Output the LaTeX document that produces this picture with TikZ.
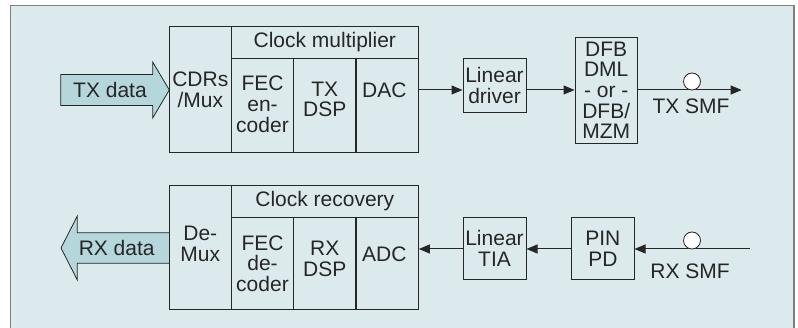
\documentclass[tikz,border=0pt]{standalone}
\usepackage{fontspec}
\setmainfont{Liberation Sans}
\usetikzlibrary{arrows.meta}
\definecolor{panelbg}{RGB}{220,234,238}
\definecolor{arrowfill}{RGB}{181,214,218}
\definecolor{framegray}{RGB}{128,128,128}
\definecolor{inkdark}{RGB}{38,38,38}

\begin{document}
\begin{tikzpicture}[x=1pt, y=-1pt,
    every node/.style={font=\fontsize{21}{20.7}\selectfont, text=inkdark, inner sep=0pt, align=center},
    blk/.style={draw=inkdark, line width=1pt},
    sig/.style={draw=inkdark, line width=1pt, -{Triangle[length=11pt,width=9pt]}},
    bigarrow/.style={draw=inkdark, line width=0.8pt, fill=arrowfill},
    fiber/.style={circle, draw=inkdark, line width=0.8pt, fill=white, minimum size=17pt}]
  \useasboundingbox (0,0) rectangle (798,328);
  \fill[panelbg] (10.5,5.5) rectangle (794,328);
  \draw[framegray, line width=1.5pt] (10.5,328) -- (10.5,5.5) -- (794,5.5) -- (794,328);

  % transmitter
  \draw[bigarrow] (60.7,74.5) -- (152.7,74.5) -- (152.7,62) -- (169.3,90) -- (152.7,118)
    -- (152.7,105.5) -- (60.7,105.5) -- cycle;
  \node (txdata) at (110,90) {TX data};
  \coordinate (txline) at (0,90);
  \node[blk, minimum width=62pt, minimum height=125.6pt] (cdr) at (200.3,89.5) {CDRs\\/Mux};
  \node[blk, minimum width=187pt, minimum height=31.6pt] (clkm) at (324.8,42.5) {Clock multiplier};
  \foreach \nm/\cx/\dy/\txt in {
      fec/262.5/1/{FEC\\en-\\coder},
      txdsp/324.8/6/{TX\\DSP},
      dac/387.2/15/{DAC}
    }{
    \node[blk, minimum width=62.3pt, minimum height=94pt] (\nm) at (\cx,105.3) {};
    \node (\nm txt) at ([yshift=\dy pt]\nm.center) {\txt};
  }
  \node[blk, minimum width=63pt, minimum height=54pt] (drv) at (494.5,85.3) {Linear\\driver};
  \node[blk, minimum width=62.3pt, minimum height=106pt] (dfb) at (606.2,90.3) {DFB\\DML\\- or -\\DFB/\\MZM};
  \coordinate (txend) at (741.7,90);
  \draw[sig] (dac.east |- txline) -- (drv.west |- txline);
  \draw[sig] (drv.east |- txline) -- (dfb.west |- txline);
  \draw[sig] (dfb.east |- txline) -- (txend);
  \node[fiber] (txcon) at (692,81.5) {};
  \node (txsmf) at (691,106) {TX SMF};

  % receiver
  \draw[bigarrow] (169.3,232.7) -- (77.3,232.7) -- (77.3,216) -- (61,248) -- (77.3,280)
    -- (77.3,263.3) -- (169.3,263.3);
  \node (rxdata) at (116.7,248) {RX data};
  \coordinate (rxline) at (0,249);
  \node[blk, minimum width=62pt, minimum height=124.3pt] (demux) at (200.3,247.85) {};
  \node (demuxtxt) at ([yshift=4pt]demux.center) {De-\\Mux};
  \node[blk, minimum width=187pt, minimum height=31.6pt] (clkr) at (324.8,201.5) {Clock recovery};
  \foreach \nm/\cx/\dy/\txt in {
      fecd/262.5/0/{FEC\\de-\\coder},
      rxdsp/324.8/5/{RX\\DSP},
      adc/387.2/9/{ADC}
    }{
    \node[blk, minimum width=62.3pt, minimum height=92.7pt] (\nm) at (\cx,263.65) {};
    \node (\nm txt) at ([yshift=\dy pt]\nm.center) {\txt};
  }
  \node[blk, minimum width=63pt, minimum height=62.7pt] (tia) at (494.5,248.65) {Linear\\TIA};
  \node[blk, minimum width=62.3pt, minimum height=62.7pt] (pin) at (602.85,248.65) {PIN\\PD};
  \coordinate (rxstart) at (750,249);
  \draw[sig] (rxstart) -- (pin.east |- rxline);
  \draw[sig] (pin.west |- rxline) -- (tia.east |- rxline);
  \draw[sig] (tia.west |- rxline) -- (adc.east |- rxline);
  \node[fiber] (rxcon) at (692,240.5) {};
  \node (rxsmf) at (690,271) {RX SMF};
\end{tikzpicture}
\end{document}
